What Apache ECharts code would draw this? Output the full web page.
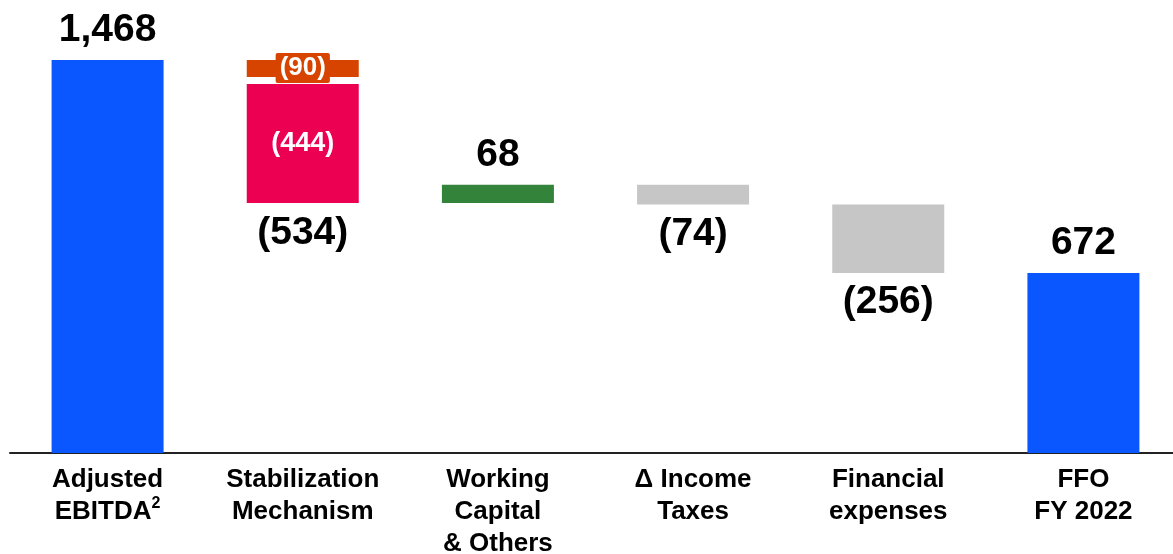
<!DOCTYPE html>
<html>
<head>
<meta charset="utf-8">
<script src="https://cdn.jsdelivr.net/npm/echarts@6/dist/echarts.min.js"></script>
<style>
  html, body { margin: 0; padding: 0; background: #fff; }
  #chart { width: 1173px; height: 554px; }
</style>
</head>
<body>
<div id="chart"></div>
<script>
// ---- data ----
const categories = ['Adjusted\nEBITDA²', 'Stabilization\nMechanism', 'Working\nCapital\n& Others', 'Δ Income\nTaxes', 'Financial\nexpenses', 'FFO\nFY 2022'];
const stepValues = [1468, -534, 68, -74, -256, 672];      // label values per column
const stabilizationParts = [-444, -90];                   // pink (lower), orange (upper)
const totalFlags = [true, false, false, false, false, true];
const barColors = ['#0A57FF', '#EC0052', '#33843A', '#C6C6C6', '#C6C6C6', '#0A57FF'];
const orangeColor = '#D64400';

const FONT = '"Liberation Sans", Arial, Helvetica, sans-serif';
function fmt(v) {
  const s = Math.abs(v).toLocaleString('en-US');
  return v < 0 ? '(' + s + ')' : s;
}

// ---- waterfall construction ----
const baseData = [];
const mainData = [];
let running = 0;
stepValues.forEach((v, i) => {
  if (totalFlags[i]) {
    baseData.push(0);
    mainData.push(v);
    running = v;
  } else if (i === 1) {
    const low = running + v;
    baseData.push(low);
    mainData.push(Math.abs(stabilizationParts[0]));
    running = low;
  } else {
    const low = v < 0 ? running + v : running;
    baseData.push(low);
    mainData.push(Math.abs(v));
    running = running + v;
  }
});
const orangeTop = stepValues[0];
const orangeBottom = stepValues[0] + stabilizationParts[1];
const orangeData = [[1, orangeTop, orangeBottom, stabilizationParts[1]]];

const bigLabel = { fontFamily: FONT, fontWeight: 'bold', fontSize: 39, color: '#000' };

const baseItems = baseData.map((v, i) => {
  const item = { value: v, itemStyle: { color: 'transparent' } };
  if (i === 1) {
    item.label = Object.assign({ show: true, position: 'insideTop', distance: 11,
      formatter: () => fmt(stepValues[1]) }, bigLabel);
  }
  return item;
});

const mainItems = mainData.map((v, i) => {
  const item = { value: v, itemStyle: { color: barColors[i] } };
  if (i === 1) {
    item.label = { show: true, position: 'inside', fontFamily: FONT, fontWeight: 'bold',
      fontSize: 27, color: '#fff', formatter: () => fmt(stabilizationParts[0]) };
  } else {
    const neg = stepValues[i] < 0;
    item.label = Object.assign({ show: true, position: neg ? 'bottom' : 'top', distance: 10,
      formatter: () => fmt(stepValues[i]) }, bigLabel);
  }
  return item;
});

const chart = echarts.init(document.getElementById('chart'), null, { renderer: 'canvas' });
chart.setOption({
  animation: false,
  backgroundColor: '#fff',
  grid: { left: 10, right: -8, top: 0, bottom: 101, containLabel: false, outerBoundsMode: 'none' },
  xAxis: {
    type: 'category',
    data: categories,
    axisTick: { show: false },
    axisLine: { lineStyle: { color: '#222', width: 2 } },
    axisLabel: {
      interval: 0, margin: 11, color: '#000', fontFamily: FONT, fontWeight: 'bold',
      fontSize: 26, lineHeight: 32, align: 'center',
      formatter: (v) => v.replace('²', '{sup|2}'),
      rich: {
        sup: { fontFamily: FONT, fontWeight: 'bold', fontSize: 16, color: '#000',
               lineHeight: 25, verticalAlign: 'top' }
      }
    }
  },
  yAxis: { type: 'value', min: 0, max: 1692, show: false, splitLine: { show: false } },
  series: [
    { type: 'bar', stack: 'wf', barWidth: 112, data: baseItems, silent: true, z: 1 },
    { type: 'bar', stack: 'wf', barWidth: 112, data: mainItems, z: 2 },
    {
      type: 'custom',
      coordinateSystem: 'cartesian2d',
      encode: { x: 0, y: [1, 2] },
      data: orangeData,
      z: 3,
      renderItem: function (params, api) {
        const x = api.value(0);
        const top = api.coord([x, api.value(1)]);
        const bot = api.coord([x, api.value(2)]);
        const gap = 7;
        const w = 112;
        return {
          type: 'group',
          children: [
            { type: 'rect', shape: { x: top[0] - w / 2, y: top[1], width: w, height: bot[1] - top[1] - gap },
              style: { fill: orangeColor } },
            { type: 'text', style: { text: fmt(api.value(3)), x: top[0], y: top[1] + 8,
                align: 'center', verticalAlign: 'middle', fill: '#fff',
                font: 'bold 26px ' + FONT, backgroundColor: orangeColor,
                padding: [3, 4, 1, 4], borderRadius: 2 } }
          ]
        };
      }
    }
  ]
});
</script>
</body>
</html>
